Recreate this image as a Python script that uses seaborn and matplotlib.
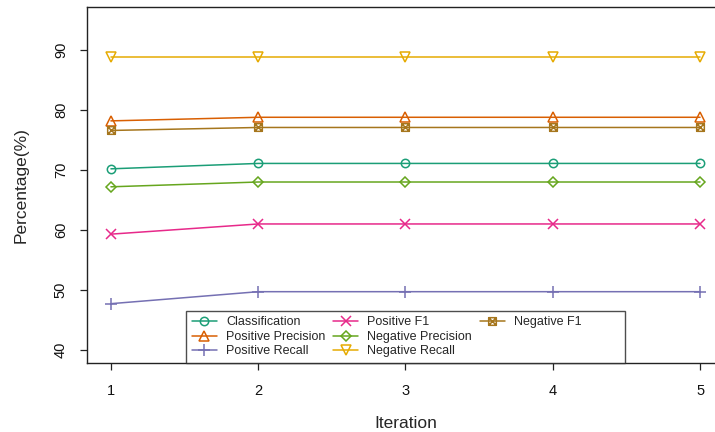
import numpy as np
import pandas as pd
import matplotlib
matplotlib.use("Agg")
import matplotlib.pyplot as plt
from matplotlib.path import Path
from matplotlib.lines import Line2D
import seaborn as sns

# Evaluation metrics per training iteration
iterations = [1, 2, 3, 4, 5]
classification = [70.2, 71.1, 71.1, 71.1, 71.1]
positive_precision = [78.2, 78.8, 78.8, 78.8, 78.8]
positive_recall = [47.7, 49.7, 49.7, 49.7, 49.7]
positive_f1 = [59.3, 61.0, 61.0, 61.0, 61.0]
negative_precision = [67.2, 68.0, 68.0, 68.0, 68.0]
negative_recall = [88.9, 88.9, 88.9, 88.9, 88.9]
negative_f1 = [76.6, 77.1, 77.1, 77.1, 77.1]

metrics = ["Classification", "Positive Precision", "Positive Recall",
           "Positive F1", "Negative Precision", "Negative Recall",
           "Negative F1"]
series = [classification, positive_precision, positive_recall,
          positive_f1, negative_precision, negative_recall, negative_f1]

df = pd.DataFrame({
    "Iteration": np.tile(iterations, len(metrics)),
    "Percentage": np.concatenate(series),
    "Metric": np.repeat(metrics, len(iterations)),
})

# square with a cross inside (R's pch 7)
boxx = Path(
    [(-1, -1), (1, -1), (1, 1), (-1, 1), (-1, -1),
     (-1, -1), (1, 1), (-1, 1), (1, -1)],
    [Path.MOVETO, Path.LINETO, Path.LINETO, Path.LINETO, Path.CLOSEPOLY,
     Path.MOVETO, Path.LINETO, Path.MOVETO, Path.LINETO],
)
marker_map = {
    "Classification": ("o", 6.0),
    "Positive Precision": ("^", 7.0),
    "Positive Recall": ("+", 8.5),
    "Positive F1": ("x", 6.5),
    "Negative Precision": ("D", 5.5),
    "Negative Recall": ("v", 7.0),
    "Negative F1": (boxx, 5.5),
}

sns.set_style("ticks")
plt.rcParams["font.family"] = ["Liberation Sans", "DejaVu Sans"]

palette = sns.color_palette("Dark2", len(metrics))

fig = plt.figure(figsize=(7.15, 4.32), dpi=100)
ax = fig.add_axes([0.1222, 0.1597, 0.8898, 0.8241])

sns.lineplot(data=df, x="Iteration", y="Percentage", hue="Metric",
             hue_order=metrics, palette=palette,
             linewidth=1.1, legend=False, ax=ax)

# open (unfilled) markers in the line colour
for line, m, c in zip(ax.lines, metrics, palette):
    mk, ms = marker_map[m]
    line.set_label(m)
    line.set_marker(mk)
    line.set_markersize(ms)
    line.set_markerfacecolor("none")
    line.set_markeredgecolor(c)
    line.set_markeredgewidth(1.1)

ax.set_xlim(0.84, 5.16)
ax.set_ylim(37.8, 97.2)
ax.set_xticks(iterations)
ax.set_yticks([40, 50, 60, 70, 80, 90])

for s in ax.spines.values():
    s.set_visible(True)
    s.set_color("#222222")
    s.set_linewidth(1.0)

ax.tick_params(axis="both", direction="out", length=5, width=0.9,
               color="#222222", labelsize=10.5, labelcolor="#111111",
               bottom=True, left=True, top=False, right=False)
ax.tick_params(axis="x", pad=10)
ax.tick_params(axis="y", pad=9)
for lab in ax.get_yticklabels():
    lab.set_rotation(90)
    lab.set_va("center")

ax.set_xlabel("Iteration", fontsize=12.5, labelpad=13)
ax.set_ylabel("Percentage(%)", fontsize=12.5, labelpad=18)

# legend filled column by column: 3 + 3 + 1 entries; the padding
# entries keep the last column as wide as the others
handles = list(ax.lines[:len(metrics)])
labels = list(metrics)
blank = Line2D([], [], linestyle="none", marker="none")
pad_label = "\u2007" * 15
handles += [blank, blank]
labels += [pad_label, pad_label]

leg = ax.legend(handles=handles, labels=labels, ncol=3,
                loc="lower center", bbox_to_anchor=(0.5, 0.0),
                fontsize=9, frameon=True, fancybox=False,
                borderaxespad=0, handlelength=2.0, handletextpad=0.75,
                columnspacing=0.6, labelspacing=0.2, borderpad=0.45,
                numpoints=1)
leg.get_frame().set_edgecolor("#222222")
leg.get_frame().set_linewidth(1.0)

fig.savefig("out.png", dpi=100)
